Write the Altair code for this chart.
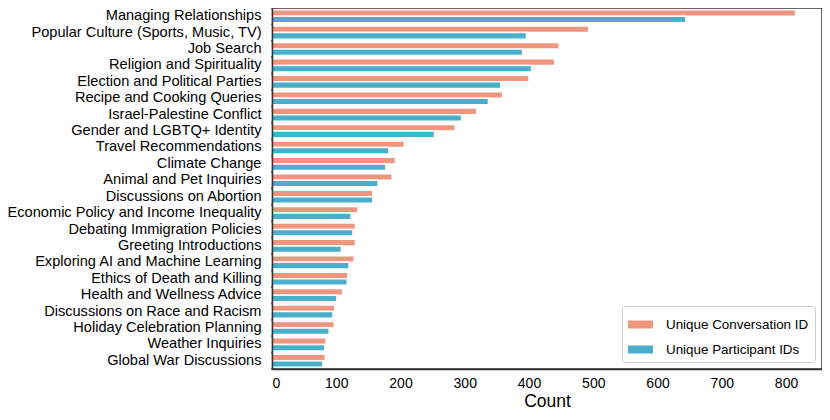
import altair as alt
import pandas as pd

categories = [
    "Managing Relationships",
    "Popular Culture (Sports, Music, TV)",
    "Job Search",
    "Religion and Spirituality",
    "Election and Political Parties",
    "Recipe and Cooking Queries",
    "Israel-Palestine Conflict",
    "Gender and LGBTQ+ Identity",
    "Travel Recommendations",
    "Climate Change",
    "Animal and Pet Inquiries",
    "Discussions on Abortion",
    "Economic Policy and Income Inequality",
    "Debating Immigration Policies",
    "Greeting Introductions",
    "Exploring AI and Machine Learning",
    "Ethics of Death and Killing",
    "Health and Wellness Advice",
    "Discussions on Race and Racism",
    "Holiday Celebration Planning",
    "Weather Inquiries",
    "Global War Discussions",
]

conversation_counts = [815, 493, 447, 440, 400, 359, 319, 285, 206, 192, 187, 157,
                       134, 130, 130, 128, 118, 110, 98, 97, 84, 83]
participant_counts = [644, 396, 390, 404, 356, 337, 295, 253, 182, 177, 165, 157,
                      123, 126, 108, 120, 117, 101, 95, 89, 82, 79]

series_names = ["Unique Conversation ID", "Unique Participant IDs"]
series_colors = ["#EF977E", "#4AAFCA"]

rows = []
for cat, c, p in zip(categories, conversation_counts, participant_counts):
    rows.append({"topic": cat, "series": series_names[0], "count": c})
    rows.append({"topic": cat, "series": series_names[1], "count": p})
df = pd.DataFrame(rows)

FONT = "Liberation Sans"

bars = alt.Chart(df).mark_bar(stroke="white", strokeWidth=1.5).encode(
    x=alt.X(
        "count:Q",
        title="Count",
        scale=alt.Scale(domain=[0, 856], nice=False, zero=True),
        axis=alt.Axis(
            values=[0, 100, 200, 300, 400, 500, 600, 700, 800],
            grid=False, ticks=False, tickSize=0,
            labelFontSize=14, labelPadding=7, labelColor="black",
            titleFontSize=17.5, titleFontWeight="normal", titleColor="black",
            titlePadding=2,
            domain=True, domainColor="#333333", domainWidth=1.5, zindex=1,
        ),
    ),
    y=alt.Y(
        "topic:N",
        sort=categories,
        title=None,
        scale=alt.Scale(paddingInner=0.2, paddingOuter=0.1),
        axis=alt.Axis(
            grid=False, ticks=False, tickSize=0,
            labelFontSize=14.6, labelPadding=11, labelColor="black",
            labelLimit=400,
            domain=True, domainColor="#333333", domainWidth=1.5, zindex=1,
        ),
    ),
    yOffset=alt.YOffset("series:N", sort=series_names,
                        scale=alt.Scale(paddingInner=0, paddingOuter=0)),
    color=alt.Color(
        "series:N",
        sort=series_names,
        scale=alt.Scale(domain=series_names, range=series_colors),
        legend=alt.Legend(
            title=None,
            orient="bottom-right",
            offset=7,
            fillColor="white",
            strokeColor="#cccccc",
            cornerRadius=3,
            padding=6,
            labelFontSize=13.4,
            labelColor="black",
            labelOffset=13,
            rowPadding=6,
            symbolType="M-1,-0.32L1,-0.32L1,0.32L-1,0.32Z",
            symbolSize=625,
            symbolStrokeWidth=0,
            symbolOpacity=1,
        ),
    ),
)

chart = bars.properties(
    width=550,
    height=361,
    padding={"left": 264, "top": 0, "right": 0, "bottom": 43},
    autosize=alt.AutoSizeParams(type="none"),
).configure(
    font=FONT,
).configure_view(
    stroke="#333333",
    strokeWidth=1.5,
)

chart.save("out.html", embed_options={"renderer": "svg", "actions": False})
